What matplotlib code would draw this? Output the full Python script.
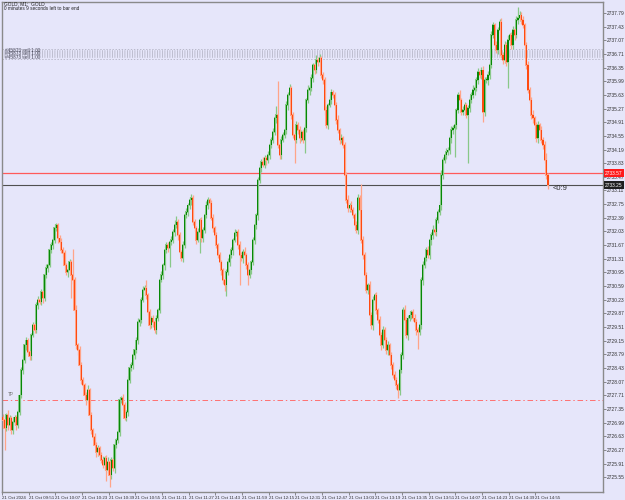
import matplotlib
matplotlib.use("Agg")
import matplotlib.pyplot as plt
import numpy as np

plt.rcParams["font.family"] = ["Liberation Sans", "DejaVu Sans"]
plt.rcParams["lines.scale_dashes"] = False

# M1 closes (10 bars per row)
CLOSE = [
    2727.06, 2726.84, 2727.19, 2726.92, 2727.11, 2726.79, 2727.00, 2727.13, 2726.92, 2727.27,
    2727.71, 2728.37, 2728.64, 2729.03, 2729.16, 2728.85, 2728.74, 2729.30, 2729.56, 2729.43,
    2730.09, 2730.22, 2730.17, 2730.43, 2730.27, 2730.88, 2731.06, 2731.14, 2731.54, 2731.67,
    2731.80, 2732.12, 2732.20, 2731.85, 2731.75, 2731.54, 2731.46, 2731.14, 2730.96, 2731.01,
    2731.22, 2730.88, 2730.75, 2729.96, 2729.03, 2728.90, 2728.51, 2728.11, 2727.98, 2727.71,
    2727.58, 2727.85, 2727.19, 2726.79, 2726.61, 2726.40, 2726.21, 2726.32, 2726.13, 2726.00,
    2725.87, 2726.05, 2725.74, 2725.95, 2725.60, 2726.00, 2725.79, 2726.40, 2726.53, 2726.74,
    2727.58, 2727.64, 2727.45, 2727.11, 2727.27, 2728.11, 2728.43, 2728.51, 2728.77, 2728.90,
    2729.16, 2729.64, 2729.69, 2730.22, 2730.48, 2730.54, 2730.35, 2729.90, 2729.56, 2729.74,
    2729.64, 2729.43, 2729.74, 2729.96, 2730.75, 2730.88, 2731.14, 2731.54, 2731.67, 2731.59,
    2731.75, 2731.80, 2732.01, 2732.20, 2732.28, 2731.93, 2731.49, 2731.33, 2731.67, 2732.46,
    2732.54, 2732.72, 2732.86, 2732.91, 2732.28, 2732.12, 2731.80, 2732.01, 2732.33, 2731.85,
    2732.07, 2732.46, 2732.72, 2732.86, 2732.78, 2732.38, 2732.12, 2731.93, 2731.67, 2731.41,
    2731.22, 2731.01, 2730.75, 2730.62, 2730.96, 2731.22, 2731.41, 2731.54, 2731.80, 2731.99,
    2732.01, 2731.67, 2731.41, 2731.33, 2731.49, 2731.41, 2731.14, 2730.88, 2731.01, 2731.22,
    2731.80, 2732.20, 2732.46, 2733.38, 2733.70, 2733.86, 2733.78, 2733.96, 2733.91, 2734.04,
    2734.31, 2734.44, 2734.65, 2735.02, 2735.10, 2734.31, 2734.04, 2734.44, 2734.57, 2734.70,
    2735.36, 2735.63, 2735.81, 2735.10, 2734.57, 2734.44, 2734.83, 2734.70, 2734.49, 2734.65,
    2734.44, 2734.76, 2735.49, 2735.76, 2735.81, 2736.07, 2736.42, 2736.28, 2736.55, 2736.50,
    2736.60, 2736.15, 2736.02, 2735.23, 2734.83, 2735.36, 2735.49, 2735.70, 2735.63, 2735.36,
    2734.97, 2734.70, 2734.44, 2734.49, 2734.31, 2733.52, 2732.86, 2732.64, 2732.72, 2732.59,
    2732.46, 2732.20, 2732.07, 2732.91, 2732.59, 2731.80, 2731.41, 2730.88, 2730.48, 2730.62,
    2729.82, 2729.56, 2730.22, 2730.35, 2729.96, 2729.69, 2729.30, 2729.03, 2729.43, 2729.16,
    2728.90, 2729.03, 2728.77, 2728.51, 2728.24, 2728.11, 2727.98, 2727.85, 2728.37, 2728.77,
    2729.96, 2729.69, 2729.30, 2729.74, 2729.82, 2729.90, 2729.74, 2729.64, 2729.43, 2729.38,
    2729.56, 2730.75, 2731.14, 2731.33, 2731.54, 2731.41, 2731.80, 2731.93, 2732.07, 2732.01,
    2732.33, 2732.54, 2732.72, 2733.52, 2733.91, 2734.04, 2734.12, 2734.17, 2734.49, 2734.70,
    2734.76, 2734.83, 2735.23, 2735.63, 2735.49, 2735.18, 2735.23, 2735.36, 2735.10, 2735.28,
    2735.49, 2735.63, 2735.76, 2735.81, 2736.02, 2736.23, 2736.15, 2736.28, 2735.18, 2736.02,
    2736.02, 2736.15, 2736.42, 2737.21, 2737.47, 2736.94, 2736.81, 2737.34, 2737.55, 2736.68,
    2736.55, 2736.94, 2736.50, 2737.08, 2737.21, 2736.94, 2737.34, 2737.21, 2737.60, 2737.66,
    2737.73, 2737.60, 2737.47, 2736.94, 2736.42, 2735.76, 2735.49, 2735.10, 2735.02, 2734.83,
    2734.49, 2734.83, 2734.70, 2734.44, 2734.31, 2733.91, 2733.52, 2733.25,
]
FIRST_OPEN = 2727.13

# wick lengths above / below the body, in cents
WICK_UP = [
    8, 10, 6, 12, 8, 5, 10, 7, 6, 9,    6, 8, 12, 5, 10, 7, 9, 6, 8, 10,
    7, 12, 5, 9, 6, 8, 10, 5, 7, 9,     8, 10, 6, 5, 9, 12, 7, 8, 6, 10,
    9, 6, 70, 8, 12, 5, 10, 7, 9, 6,    8, 12, 6, 9, 5, 10, 7, 8, 6, 9,
    10, 6, 8, 12, 5, 9, 7, 10, 6, 8,    9, 5, 10, 8, 6, 12, 7, 9, 5, 10,
    8, 12, 6, 9, 10, 7, 22, 5, 8, 6,    10, 7, 9, 5, 8, 12, 6, 10, 7, 9,
    6, 10, 8, 12, 15, 7, 9, 5, 10, 8,   12, 6, 9, 10, 7, 8, 5, 12, 6, 9,
    8, 10, 12, 9, 6, 7, 10, 5, 8, 6,    9, 7, 5, 10, 8, 12, 6, 9, 7, 10,
    6, 8, 10, 7, 9, 12, 5, 8, 10, 6,    8, 12, 6, 9, 10, 7, 12, 8, 6, 10,
    7, 9, 12, 8, 25, 90, 6, 10, 8, 7,   12, 8, 10, 6, 9, 7, 10, 8, 12, 6,
    9, 10, 7, 12, 8, 10, 6, 9, 12, 8,   10, 6, 9, 8, 12, 7, 10, 8, 6, 9,
    8, 12, 7, 10, 6, 9, 8, 12, 7, 10,   9, 6, 10, 12, 8, 70, 10, 7, 9, 6,
    10, 8, 12, 7, 9, 6, 10, 8, 12, 7,   8, 10, 6, 9, 7, 12, 8, 6, 10, 9,
    7, 12, 9, 8, 10, 6, 8, 12, 7, 9,    10, 8, 12, 6, 9, 10, 7, 8, 12, 6,
    9, 7, 10, 12, 8, 6, 10, 9, 7, 12,   8, 10, 6, 9, 12, 7, 10, 8, 6, 9,
    10, 8, 12, 7, 9, 10, 6, 8, 10, 7,   9, 12, 7, 10, 8, 6, 12, 9, 7, 10,
    8, 10, 9, 12, 6, 8, 10, 7, 12, 29,  10, 8, 12, 6, 9, 10, 7, 8, 12, 6,
    9, 10, 7, 12, 8, 10, 20, 6,
]
WICK_DN = [
    10, 58, 8, 12, 6, 9, 10, 7, 12, 8,  9, 6, 10, 8, 12, 7, 9, 10, 6, 8,
    8, 10, 6, 9, 12, 7, 8, 10, 6, 9,    10, 7, 9, 12, 6, 8, 10, 9, 7, 12,
    8, 60, 10, 7, 9, 12, 6, 10, 8, 9,   12, 7, 9, 10, 8, 6, 12, 9, 10, 7,
    9, 12, 30, 8, 32, 10, 7, 12, 9, 8,  10, 8, 12, 6, 9, 10, 7, 8, 12, 9,
    7, 10, 9, 8, 6, 12, 10, 7, 9, 8,    12, 8, 10, 7, 9, 6, 10, 12, 8, 9,
    50, 9, 7, 10, 8, 12, 6, 9, 10, 7,   8, 10, 9, 12, 7, 8, 10, 6, 55, 9,
    10, 7, 8, 9, 12, 6, 10, 8, 7, 9,    8, 12, 10, 15, 30, 7, 10, 8, 12, 6,
    9, 10, 80, 8, 12, 7, 9, 25, 8, 10,  7, 9, 10, 12, 8, 10, 6, 9, 12, 7,
    10, 8, 9, 7, 12, 8, 10, 9, 6, 8,    9, 12, 7, 10, 8, 60, 9, 10, 12, 7,
    8, 34, 10, 7, 12, 8, 10, 9, 7, 12,  10, 7, 9, 12, 8, 10, 6, 9, 8, 10,
    12, 8, 10, 9, 7, 12, 8, 10, 9, 6,   8, 10, 7, 12, 9, 8, 10, 12, 7, 9,
    10, 9, 12, 8, 10, 7, 9, 12, 8, 10,  9, 12, 8, 10, 7, 9, 10, 21, 12, 8,
    10, 8, 9, 12, 7, 10, 8, 9, 12, 45,  8, 10, 12, 7, 9, 8, 10, 12, 9, 7,
    10, 9, 8, 12, 10, 7, 9, 8, 10, 12,  9, 76, 10, 8, 12, 9, 7, 10, 8, 127,
    10, 8, 9, 12, 7, 10, 8, 9, 26, 10,  8, 12, 10, 9, 7, 12, 8, 10, 9, 8,
    10, 9, 12, 68, 8, 10, 9, 12, 7, 10, 9, 10, 8, 12, 10, 9, 8, 10, 12, 9,
    10, 12, 8, 9, 10, 8, 12, 10,
]

Y_TICKS = [round(2737.79 - 0.36 * k, 2) for k in range(35)]
X_LABELS = ["21 Oct 2024", "21 Oct 09:51", "21 Oct 10:07", "21 Oct 10:23", "21 Oct 10:39",
            "21 Oct 10:55", "21 Oct 11:11", "21 Oct 11:27", "21 Oct 11:43", "21 Oct 11:59",
            "21 Oct 12:15", "21 Oct 12:31", "21 Oct 12:47", "21 Oct 13:03", "21 Oct 13:19",
            "21 Oct 13:35", "21 Oct 13:51", "21 Oct 14:07", "21 Oct 14:23", "21 Oct 14:39",
            "21 Oct 14:55"]

ASK_LINE = 2733.57
BID_LINE = 2733.25
TP_LINE = 2727.58
ORDER_LINES = [2736.84, 2736.57]
ORDER_BAND = 2736.71

BG = "#e6e6fa"
BULL, BULL_LT = "#078807", "#88c888"
BEAR, BEAR_LT = "#ff4a10", "#ffa488"

close = np.array(CLOSE)
opn = np.concatenate([[FIRST_OPEN], close[:-1]])
hi = np.maximum(opn, close) + np.array(WICK_UP) / 100.0
lo = np.minimum(opn, close) - np.array(WICK_DN) / 100.0
x = np.arange(len(close))
up = close >= opn

fig = plt.figure(figsize=(6.25, 5.0), dpi=100, facecolor=BG)
ax = fig.add_axes([2 / 625, 8 / 500, 601 / 625, 490 / 500], facecolor=BG)

# wicks
ax.vlines(x[up], lo[up], hi[up], color=BULL_LT, lw=0.9, zorder=2)
ax.vlines(x[~up], lo[~up], hi[~up], color=BEAR_LT, lw=0.9, zorder=2)

# bodies: light halo + darker core (the screenshot was downscaled)
body_lo = np.minimum(opn, close)
body_h = np.maximum(np.abs(close - opn), 0.02)
for m, c_lt, c in [(up, BULL_LT, BULL), (~up, BEAR_LT, BEAR)]:
    ax.bar(x[m], body_h[m] + 0.04, bottom=body_lo[m] - 0.02, width=1.25, color=c_lt,
           lw=0, zorder=3)
    ax.bar(x[m], body_h[m], bottom=body_lo[m], width=0.65, color=c, lw=0, zorder=4)

# horizontal lines
ax.axhline(ASK_LINE, color="#ff5a5a", lw=0.9, zorder=1)
ax.axhline(BID_LINE, color="#505050", lw=0.8, zorder=1)
ax.axhline(TP_LINE, color="#ff7070", lw=0.7, zorder=1, linestyle=(0, (4, 2, 1, 2)))
for p in ORDER_LINES:
    ax.axhline(p, color="#a8a8b8", lw=0.5, linestyle=(0, (1, 1.2)), zorder=1)
ax.axhline(ORDER_BAND, color="#b8b8c8", lw=5.5, linestyle=(0, (0.6, 1.2)), zorder=1)

ax.text(3, TP_LINE + 0.08, "TP", fontsize=3.3, color="#707070", va="bottom", ha="left")
for dy in [0.1, 0.0, -0.1]:
    ax.text(1, ORDER_BAND + dy, "#45873 sell 1.00", fontsize=3.4, color="#303040",
            va="center", ha="left", alpha=0.8)
ax.text(len(close) + 1.5, BID_LINE - 0.08, "<0:9", fontsize=5.5, color="#303030",
        va="center", ha="left")

ax.set_xlim(-0.48, 360.0)
ax.set_ylim(2725.16, 2738.08)

ax.yaxis.tick_right()
ax.set_yticks(Y_TICKS)
ax.set_yticklabels([f"{v:.2f}" for v in Y_TICKS])
ax.set_xticks([16 * k - 0.5 for k in range(len(X_LABELS))])
ax.set_xticklabels(X_LABELS)
for lab in ax.get_xticklabels():
    lab.set_horizontalalignment("left")
ax.tick_params(axis="y", labelsize=3.5, length=2, width=0.5, color="#606060",
               labelcolor="#303030", pad=1)
ax.tick_params(axis="x", labelsize=3.2, length=2, width=0.5, color="#606060",
               labelcolor="#303030", pad=1)
for s in ax.spines.values():
    s.set_color("#8a8a8a")
    s.set_linewidth(1.0)

tr = ax.get_yaxis_transform()
ax.text(1.003, ASK_LINE, f"{ASK_LINE:.2f}", transform=tr, fontsize=3.5, color="white",
        va="center", ha="left", zorder=10,
        bbox=dict(boxstyle="square,pad=0.25", fc="#ff1a1a", ec="none"))
ax.text(1.003, BID_LINE, f"{BID_LINE:.2f}", transform=tr, fontsize=3.5, color="white",
        va="center", ha="left", zorder=10,
        bbox=dict(boxstyle="square,pad=0.25", fc="#202020", ec="none"))

fig.text(4 / 625, 1 - 3.5 / 500, "GOLD, M1:  GOLD", fontsize=3.4, color="#202020",
         va="center", ha="left")
fig.text(4 / 625, 1 - 8.5 / 500, "0 minutes 9 seconds left to bar end", fontsize=3.4,
         color="#202020", va="center", ha="left")

fig.savefig("out.png", dpi=100, facecolor=BG)
